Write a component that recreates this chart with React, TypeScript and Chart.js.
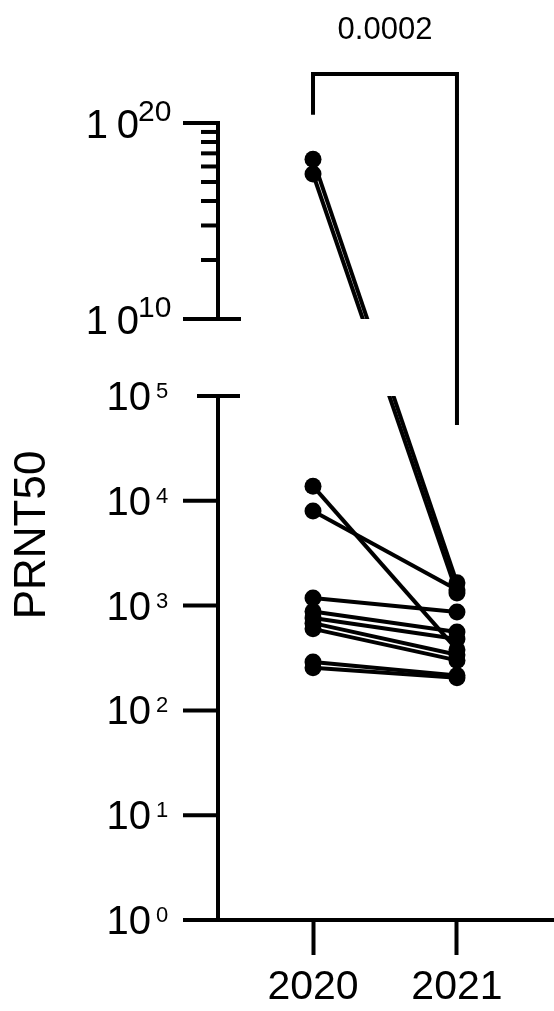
import React, { useEffect, useRef } from "react";
import { Chart, registerables, LinearScale } from "chart.js";

Chart.register(...registerables);

// ---------------- data ----------------
const YEARS = ["2020", "2021"];
const PRNT50_2020 = [1.4e18, 2.5e17, 13800, 8000, 1180, 880, 760, 680, 600, 290, 255];
const PRNT50_2021 = [1650, 1320, 380, 1420, 870, 560, 480, 340, 300, 215, 205];

const LOWER_MAJOR_TICKS = [1, 10, 100, 1000, 10000, 100000];
const LOWER_TICK_EXPONENTS = ["0", "1", "2", "3", "4", "5"];
const UPPER_MAJOR_TICKS = [1e10, 1e20];
const UPPER_TICK_EXPONENTS = ["10", "20"];
const UPPER_MINOR_TICKS = [
  1.024e13, 5.9049e14, 1.048576e16, 9.765625e16, 6.0466176e17, 2.82475249e18, 1.073741824e19,
  3.486784401e19,
];

const Y_TITLE = "PRNT50";
const P_VALUE_LABEL = "0.0002";
const BRACKET_TOP = 3.2e22;
const BRACKET_LEFT_END = 2.6e20;
const BRACKET_RIGHT_END = 5.3e4;

// axis break definition
const AXIS_MIN = 1;
const AXIS_MAX = 1e20;
const BREAK_LOW = 1e5;
const BREAK_HIGH = 1e10;
const GAP_UNITS = 0.735;
const UPPER_DECADE_UNITS = 0.187;

const FONT = '"Liberation Sans", Arial, Helvetica, sans-serif';
const AXIS_W = 4;

function brokenT(v: number): number {
  const lg = Math.log10(v);
  const lo = Math.log10(BREAK_LOW);
  const hi = Math.log10(BREAK_HIGH);
  if (lg <= lo) return lg;
  if (lg >= hi) return lo + GAP_UNITS + (lg - hi) * UPPER_DECADE_UNITS;
  return lo + ((lg - lo) / (hi - lo)) * GAP_UNITS;
}

class BrokenLogScale extends LinearScale {
  static id = "brokenLog";
  parse(raw: any, index?: number) {
    const v = (super.parse as any)(raw, index);
    if (v === null || v === undefined || !(v > 0)) return null;
    return brokenT(v);
  }
}
Chart.register(BrokenLogScale as any);

const brokenAxisPlugin = {
  id: "brokenAxis",
  beforeDatasetsDraw(chart: any) {
    const y = chart.scales.y;
    const ctx = chart.ctx;
    const gapTop = y.getPixelForValue(y.parse(BREAK_HIGH));
    const gapBottom = y.getPixelForValue(y.parse(BREAK_LOW));
    ctx.save();
    ctx.beginPath();
    ctx.rect(0, 0, chart.width, gapTop);
    ctx.rect(0, gapBottom, chart.width, chart.height - gapBottom);
    ctx.clip();
  },
  afterDatasetsDraw(chart: any) {
    chart.ctx.restore();
  },
  afterDraw(chart: any) {
    const ctx = chart.ctx;
    const y = chart.scales.y;
    const x = chart.scales.x;
    const L = chart.chartArea.left;
    const py = (v: number) => y.getPixelForValue(y.parse(v));
    const seg = (x1: number, y1: number, x2: number, y2: number) => {
      ctx.beginPath();
      ctx.moveTo(x1, y1);
      ctx.lineTo(x2, y2);
      ctx.stroke();
    };
    ctx.save();
    ctx.strokeStyle = "#000";
    ctx.fillStyle = "#000";
    ctx.lineWidth = AXIS_W;
    ctx.lineCap = "butt";

    // axis segments
    seg(L, py(AXIS_MIN) + AXIS_W / 2, L, py(BREAK_LOW) - AXIS_W / 2);
    seg(L, py(BREAK_HIGH) + AXIS_W / 2, L, py(AXIS_MAX) - AXIS_W / 2);

    // lower ticks + labels
    LOWER_MAJOR_TICKS.forEach((v, i) => {
      const p = py(v);
      if (v === BREAK_LOW) seg(L - 21, p, L + 22, p);
      else seg(L - 35, p, L + AXIS_W / 2, p);
      ctx.textBaseline = "alphabetic";
      ctx.font = `40px ${FONT}`;
      ctx.textAlign = "right";
      ctx.fillText("10", L - 67, p + 14);
      ctx.font = `22px ${FONT}`;
      ctx.textAlign = "left";
      ctx.fillText(LOWER_TICK_EXPONENTS[i], L - 62, p + 2);
    });

    // upper ticks + labels
    UPPER_MAJOR_TICKS.forEach((v, i) => {
      const p = py(v);
      if (v === BREAK_HIGH) seg(L - 35, p, L + 23, p);
      else seg(L - 35, p, L + AXIS_W / 2, p);
      ctx.textBaseline = "alphabetic";
      ctx.font = `40px ${FONT}`;
      ctx.textAlign = "right";
      ctx.fillText("1", L - 110, p + 15);
      ctx.fillText("0", L - 79, p + 15);
      ctx.font = `30px ${FONT}`;
      ctx.textAlign = "left";
      ctx.fillText(UPPER_TICK_EXPONENTS[i], L - 80, p - 2);
    });
    UPPER_MINOR_TICKS.forEach((v) => {
      const p = py(v);
      seg(L - 17, p, L, p);
    });

    // y title
    ctx.save();
    ctx.translate(45, 535);
    ctx.rotate(-Math.PI / 2);
    ctx.font = `44px ${FONT}`;
    ctx.textAlign = "center";
    ctx.textBaseline = "alphabetic";
    ctx.fillText(Y_TITLE, 0, 0);
    ctx.restore();

    // significance bracket
    const x0 = x.getPixelForValue(0);
    const x1 = x.getPixelForValue(1);
    const yTop = py(BRACKET_TOP);
    ctx.lineJoin = "miter";
    ctx.beginPath();
    ctx.moveTo(x0, py(BRACKET_LEFT_END));
    ctx.lineTo(x0, yTop);
    ctx.lineTo(x1, yTop);
    ctx.lineTo(x1, py(BRACKET_RIGHT_END));
    ctx.stroke();
    ctx.font = `31px ${FONT}`;
    ctx.textAlign = "center";
    ctx.textBaseline = "alphabetic";
    ctx.fillText(P_VALUE_LABEL, (x0 + x1) / 2, yTop - 35);

    ctx.restore();
  },
};

export default function App() {
  const canvasRef = useRef<HTMLCanvasElement | null>(null);

  useEffect(() => {
    if (!canvasRef.current) return;
    const datasets = PRNT50_2020.map((pre, i) => ({
      label: `subject ${i + 1}`,
      data: [
        { x: 0, y: pre },
        { x: 1, y: PRNT50_2021[i] },
      ],
      showLine: true,
      borderColor: "#000",
      backgroundColor: "#000",
      borderWidth: AXIS_W,
      pointRadius: 8.5,
      pointHoverRadius: 8.5,
      pointBorderWidth: 0,
      pointBackgroundColor: "#000",
    }));

    const chart = new Chart(canvasRef.current, {
      type: "scatter",
      data: { datasets },
      plugins: [brokenAxisPlugin],
      options: {
        animation: false,
        responsive: false,
        devicePixelRatio: 1,
        layout: { autoPadding: false, padding: { left: 218, top: 123, right: 0, bottom: 0 } },
        plugins: {
          legend: { display: false },
          title: { display: false },
          tooltip: { enabled: false },
        },
        scales: {
          x: {
            type: "linear",
            min: -0.66,
            max: 1.674,
            bounds: "data",
            afterBuildTicks: (s: any) => {
              s.ticks = YEARS.map((_, i) => ({ value: i }));
            },
            afterFit: (s: any) => {
              s.height = 91;
              s.paddingLeft = 0;
              s.paddingRight = 0;
            },
            ticks: {
              callback: (v: any) => YEARS[v as number] ?? "",
              font: { family: FONT, size: 41 },
              color: "#000",
              padding: 8,
              maxRotation: 0,
              autoSkip: false,
            },
            grid: {
              drawOnChartArea: false,
              drawTicks: true,
              tickLength: 35,
              tickWidth: AXIS_W,
              tickColor: "#000",
              color: "#000",
            },
            border: { display: true, color: "#000", width: AXIS_W },
          },
          y: {
            type: "brokenLog" as any,
            display: false,
            min: AXIS_MIN,
            max: AXIS_MAX,
            bounds: "data",
          } as any,
        },
      } as any,
    });
    return () => chart.destroy();
  }, []);

  return (
    <div style={{ position: "absolute", left: 0, top: 0, width: 554, height: 1011, background: "#fff" }}>
      <canvas ref={canvasRef} width={554} height={1011} style={{ display: "block" }} />
    </div>
  );
}
